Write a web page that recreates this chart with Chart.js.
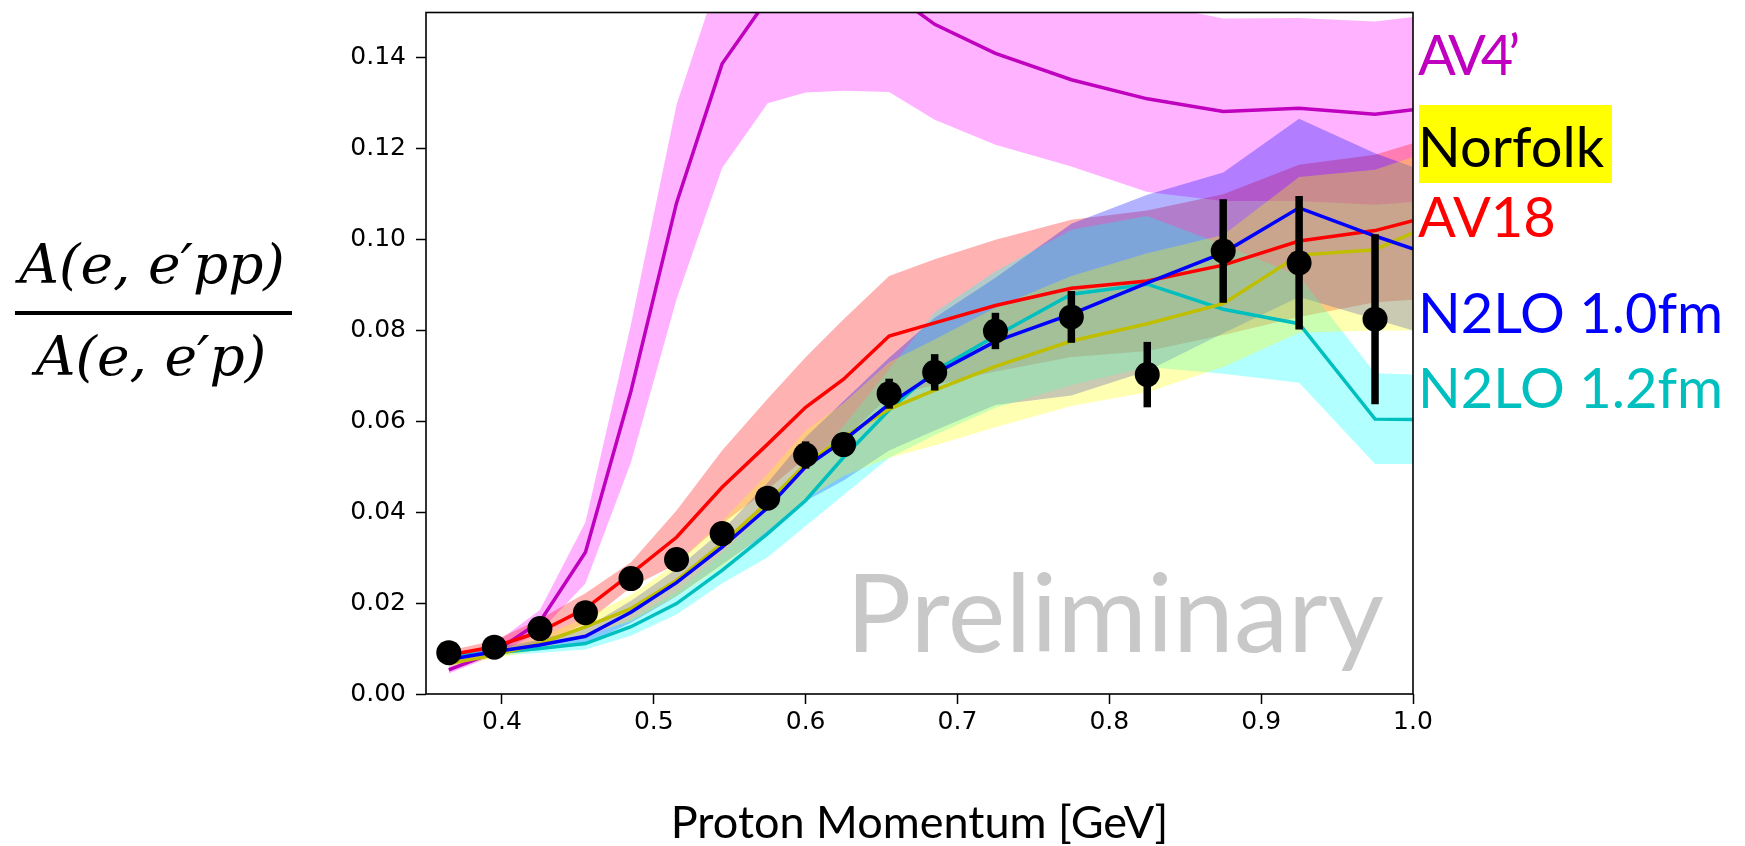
<!DOCTYPE html>
<html><head><meta charset="utf-8">
<script src="https://cdn.jsdelivr.net/npm/chart.js@4.4.1/dist/chart.umd.min.js"></script>
<style>html,body{margin:0;padding:0;background:#fff;overflow:hidden}canvas{display:block}</style>
</head><body>
<canvas id="c" width="1745" height="846"></canvas>
<script>
// ---------- data ----------
const xValues = [0.365,0.395,0.425,0.455,0.485,0.515,0.545,0.575,0.6,0.625,0.655,0.685,0.725,0.775,0.825,0.875,0.925,0.975,1.0];

const dataX   = [0.365,0.395,0.425,0.455,0.485,0.515,0.545,0.575,0.6,0.625,0.655,0.685,0.725,0.775,0.825,0.875,0.925,0.975];
const dataY   = [0.0091,0.0103,0.0144,0.0179,0.0254,0.0296,0.0353,0.0431,0.0526,0.0549,0.0661,0.0708,0.0799,0.0830,0.0703,0.0975,0.0949,0.0825];
const dataErr = [0.0008,0.0008,0.001,0.001,0.0012,0.0013,0.0015,0.0018,0.003,0.0025,0.0033,0.004,0.004,0.0057,0.0072,0.0114,0.0147,0.0187];

const av4Line   = [0.0053,0.0092,0.0159,0.0312,0.0667,0.1081,0.1387,0.153,0.157,0.158,0.1547,0.1474,0.141,0.1352,0.131,0.1282,0.1289,0.1276,0.1286];
const av4Up     = [0.0062,0.011,0.0185,0.0378,0.0814,0.1297,0.160,0.172,0.175,0.175,0.172,0.165,0.158,0.154,0.152,0.1487,0.1488,0.148,0.149];
const av4Lo     = [0.0045,0.0085,0.0137,0.0243,0.051,0.0869,0.1158,0.130,0.1324,0.1328,0.1325,0.1264,0.1209,0.1161,0.1105,0.1085,0.1085,0.1077,0.1083];

const av18Line  = [0.0086,0.0104,0.0137,0.0188,0.0265,0.0345,0.0455,0.055,0.0631,0.0693,0.0788,0.0817,0.0855,0.0893,0.0909,0.0944,0.0997,0.102,0.1042];
const av18Up    = [0.0095,0.0118,0.0165,0.0222,0.029,0.0404,0.0536,0.065,0.0741,0.0825,0.092,0.0957,0.1000,0.1044,0.1064,0.110,0.1165,0.1187,0.1212];
const av18Lo    = [0.0077,0.009,0.011,0.0155,0.0235,0.0286,0.0375,0.045,0.052,0.056,0.0656,0.068,0.071,0.0742,0.0755,0.079,0.083,0.0862,0.0868];

const n10Line   = [0.0076,0.0093,0.0108,0.0127,0.0180,0.0245,0.0323,0.041,0.0500,0.0558,0.0638,0.0705,0.0776,0.0836,0.0905,0.0971,0.107,0.1008,0.098];
const n10Up     = [0.0085,0.0100,0.0120,0.0145,0.0205,0.0275,0.036,0.0465,0.0565,0.0645,0.074,0.0828,0.0916,0.1035,0.1099,0.1148,0.1266,0.119,0.116];
const n10Lo     = [0.0068,0.0086,0.0097,0.011,0.0157,0.0215,0.0285,0.0355,0.0425,0.047,0.0536,0.058,0.0636,0.0657,0.0711,0.0794,0.0874,0.0825,0.080];

const n12Line   = [0.0083,0.0091,0.01,0.0111,0.0148,0.0199,0.0272,0.0353,0.0426,0.0521,0.0625,0.0711,0.0788,0.088,0.0902,0.0847,0.0815,0.0605,0.0604];
const n12Up     = [0.009,0.0098,0.0108,0.0122,0.0165,0.0225,0.031,0.0405,0.049,0.059,0.0715,0.084,0.093,0.1022,0.1052,0.0989,0.092,0.0706,0.0703];
const n12Lo     = [0.0075,0.0084,0.0091,0.0098,0.0128,0.0175,0.0243,0.0301,0.037,0.0438,0.052,0.057,0.063,0.068,0.072,0.0705,0.0685,0.0506,0.0506];

const norLine   = [0.0067,0.0086,0.0111,0.0148,0.0188,0.025,0.0331,0.0422,0.0506,0.0565,0.0627,0.0669,0.0721,0.0777,0.0815,0.0859,0.0966,0.0978,0.1015];
const norUp     = [0.0075,0.0095,0.0125,0.0168,0.0218,0.0288,0.038,0.0485,0.058,0.064,0.073,0.078,0.085,0.092,0.097,0.101,0.1138,0.1154,0.1182];
const norLo     = [0.006,0.0078,0.0098,0.013,0.016,0.0215,0.028,0.036,0.043,0.048,0.052,0.0547,0.0587,0.0634,0.0664,0.072,0.0795,0.080,0.080];

const xTickValues = [0.4,0.5,0.6,0.7,0.8,0.9,1.0];
const yTickValues = [0.00,0.02,0.04,0.06,0.08,0.10,0.12,0.14];
const xTitle = 'Proton Momentum [GeV]';
const yTitleNum = 'A(e, e\u2032pp)';
const yTitleDen = 'A(e, e\u2032p)';
const seriesLabels = ['AV4\u2019','Norfolk','AV18','N2LO 1.0fm','N2LO 1.2fm'];
const watermark = 'Preliminary';

// ---------- helpers ----------
const pts = ys => xValues.map((x,i)=>({x:x, y:ys[i]}));
const lineDs = (ys,color) => ({data:pts(ys), borderColor:color, borderWidth:3.5, pointRadius:0, fill:false, clip:0});
const loDs = ys => ({data:pts(ys), borderWidth:0, borderColor:'rgba(0,0,0,0)', pointRadius:0, fill:false, clip:0});
const upDs = (ys,color) => ({data:pts(ys), borderWidth:0, borderColor:'rgba(0,0,0,0)', pointRadius:0, fill:'-1', backgroundColor:color, clip:0});

const datasets = [
  {data:dataX.map((x,i)=>({x:x,y:dataY[i]})), showLine:false, pointRadius:12.5, pointHoverRadius:12.5,
   pointBackgroundColor:'#000', pointBorderWidth:0, borderColor:'#000', clip:false},
  lineDs(n10Line,'#0000ff'),
  lineDs(av18Line,'#ff0000'),
  lineDs(norLine,'#bfbf00'),
  lineDs(n12Line,'#00bfbf'),
  lineDs(av4Line,'#bf00bf'),
  loDs(norLo), upDs(norUp,'rgba(255,255,0,0.3)'),
  loDs(n12Lo), upDs(n12Up,'rgba(0,255,255,0.3)'),
  loDs(n10Lo), upDs(n10Up,'rgba(0,0,255,0.3)'),
  loDs(av18Lo), upDs(av18Up,'rgba(255,0,0,0.3)'),
  loDs(av4Lo), upDs(av4Up,'rgba(255,0,255,0.3)')
];

const errorBars = {
  id:'errorBars',
  beforeDatasetDraw(chart, args){
    if (args.index !== 0) return;
    const {ctx} = chart, xs = chart.scales.x, ys = chart.scales.y;
    ctx.save();
    ctx.strokeStyle = '#000'; ctx.lineWidth = 7.5; ctx.lineCap = 'butt';
    dataX.forEach((xv,i)=>{
      const px = xs.getPixelForValue(xv);
      ctx.beginPath();
      ctx.moveTo(px, ys.getPixelForValue(dataY[i]-dataErr[i]));
      ctx.lineTo(px, ys.getPixelForValue(dataY[i]+dataErr[i]));
      ctx.stroke();
    });
    ctx.restore();
  }
};

const decorations = {
  id:'decorations',
  afterDraw(chart){
    const {ctx, chartArea:a} = chart;
    ctx.save();
    // frame
    ctx.strokeStyle = '#000'; ctx.lineWidth = 1.6;
    ctx.strokeRect(a.left, a.top, a.right-a.left, a.bottom-a.top);
    // watermark
    ctx.fillStyle = '#c8c8c8';
    ctx.font = '109px Lato';
    ctx.textAlign = 'left'; ctx.textBaseline = 'alphabetic';
    ctx.fillText(watermark, 846, 652);
    // right-hand labels
    ctx.font = '56px Lato';
    ctx.fillStyle = '#ffff00';
    ctx.fillRect(1419, 105, 193, 78);
    const lab = [
      [seriesLabels[0], '#bf00bf', 75, '-5px'],
      [seriesLabels[1], '#000000', 167, '0px'],
      [seriesLabels[2], '#ff0000', 237, '0px'],
      [seriesLabels[3], '#0000ff', 333, '0px'],
      [seriesLabels[4], '#00bfbf', 408, '0px']
    ];
    lab.forEach(([t,c,y,ls])=>{ ctx.letterSpacing = ls; ctx.fillStyle=c; ctx.fillText(t, 1418, y); });
    ctx.letterSpacing = '0px';
    // y title as fraction
    ctx.fillStyle = '#000';
    ctx.font = 'italic 55px "DejaVu Serif"';
    ctx.textAlign = 'center';
    ctx.fillText(yTitleNum, 152, 283);
    ctx.fillText(yTitleDen, 151, 375);
    ctx.fillRect(15, 311, 277, 4);
    ctx.restore();
  }
};

new Chart(document.getElementById('c'), {
  type:'line',
  data:{datasets:datasets},
  options:{
    responsive:false, devicePixelRatio:1, animation:false, events:[],
    layout:{padding:{left:0, top:10, right:332, bottom:0}},
    plugins:{legend:{display:false}, tooltip:{enabled:false}, filler:{drawTime:'beforeDatasetsDraw', propagate:false}},
    scales:{
      x:{type:'linear', min:0.35, max:1.0, position:'bottom',
         afterBuildTicks: s => { s.ticks = xTickValues.map(v=>({value:v})); },
         afterFit: s => { s.height = 152; s.paddingLeft = 0; s.paddingRight = 0; },
         ticks:{callback:v=>Number(v).toFixed(1), font:{family:'DejaVu Sans', size:25}, color:'#000', padding:3, maxRotation:0, autoSkip:false},
         grid:{drawOnChartArea:false, drawTicks:true, tickLength:10, tickColor:'#000', tickWidth:1.5},
         border:{display:false},
         title:{display:true, text:xTitle, font:{family:'Lato', size:45, lineHeight:1}, color:'#000', padding:{top:0, bottom:0}}
      },
      y:{type:'linear', min:0, max:0.15, position:'left',
         afterBuildTicks: s => { s.ticks = yTickValues.map(v=>({value:v})); },
         afterFit: s => { s.width = 426; s.paddingTop = 0; s.paddingBottom = 0; },
         ticks:{callback:v=>Number(v).toFixed(2), font:{family:'DejaVu Sans', size:25}, color:'#000', padding:10, autoSkip:false},
         grid:{drawOnChartArea:false, drawTicks:true, tickLength:10, tickColor:'#000', tickWidth:1.5},
         border:{display:false}
      }
    }
  },
  plugins:[errorBars, decorations]
});
</script>
</body></html>
